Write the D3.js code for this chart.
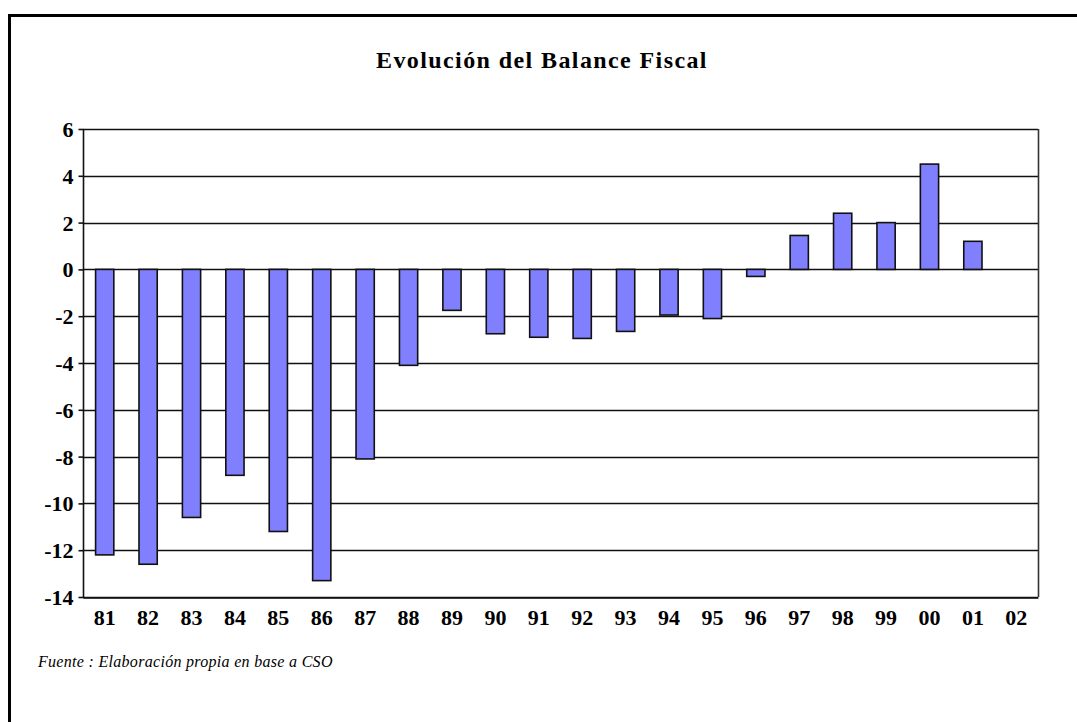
<!DOCTYPE html>
<html><head><meta charset="utf-8">
<script src="https://cdn.jsdelivr.net/npm/d3@7/dist/d3.min.js"></script>
<style>html,body{margin:0;padding:0;background:#fff;}svg{display:block;}</style>
</head><body>
<svg id="c" width="1077" height="722"></svg>
<script>
const title = "Evolución del Balance Fiscal";
const source = "Fuente : Elaboración propia en base a CSO";
const categories = ["81","82","83","84","85","86","87","88","89","90","91","92","93","94","95","96","97","98","99","00","01","02"];
const values = [-12.2,-12.6,-10.6,-8.8,-11.2,-13.3,-8.1,-4.1,-1.75,-2.75,-2.9,-2.95,-2.65,-1.95,-2.1,-0.3,1.45,2.4,2.0,4.5,1.2,null];
const yTicks = [6,4,2,0,-2,-4,-6,-8,-10,-12,-14];

const svg = d3.select("#c");
const L = 83, R = 1038, T = 129, B = 597;
const serif = "'Liberation Serif','DejaVu Serif',serif";

// outer frame (top and left visible)
svg.append("line").attr("x1",9.5).attr("x2",1077).attr("y1",15.5).attr("y2",15.5).attr("stroke","#000").attr("stroke-width",3);
svg.append("line").attr("x1",9.5).attr("x2",9.5).attr("y1",14).attr("y2",722).attr("stroke","#000").attr("stroke-width",3);

const x = d3.scaleBand().domain(categories).range([L,R]).paddingInner(0.58).paddingOuter(0.29);
const y = d3.scaleLinear().domain([-14,6]).range([B,T]);

// gridlines
svg.append("g").selectAll("line").data(yTicks).join("line")
  .attr("x1",L).attr("x2",R).attr("y1",d=>Math.round(y(d))+0.5).attr("y2",d=>Math.round(y(d))+0.5)
  .attr("stroke","#111").attr("stroke-width",1.6);

// right border
svg.append("line").attr("x1",R+0.5).attr("x2",R+0.5).attr("y1",T).attr("y2",B).attr("stroke","#333").attr("stroke-width",1.6);

// bars
svg.append("g").selectAll("rect").data(categories.map((c,i)=>({c,v:values[i]})).filter(d=>d.v!==null)).join("rect")
  .attr("x",d=>x(d.c)).attr("width",x.bandwidth())
  .attr("y",d=>y(Math.max(0,d.v))).attr("height",d=>Math.abs(y(d.v)-y(0)))
  .attr("fill","#8080ff").attr("stroke","#111").attr("stroke-width",1.6);

// y axis
const ya = d3.axisLeft(y).tickValues(yTicks).tickSize(5).tickPadding(5).tickFormat(d=>String(d));
const gy = svg.append("g").attr("transform",`translate(${L+0.5},0)`).call(ya);
gy.select(".domain").attr("stroke","#111").attr("stroke-width",1.6).attr("d",`M0,${T}V${B}`);
gy.selectAll(".tick line").attr("stroke","#111").attr("stroke-width",1.6);
gy.selectAll(".tick text").attr("font-family",serif)
  .attr("font-weight","bold").attr("font-size",22).attr("fill","#000").attr("dy","0.34em").attr("x",-10);

// x axis
const xa = d3.axisBottom(x).tickSize(0).tickPadding(12);
const gx = svg.append("g").attr("transform",`translate(0,${B+0.5})`).call(xa);
gx.select(".domain").attr("stroke","#111").attr("stroke-width",1.6);
gx.selectAll(".tick text").attr("font-family",serif)
  .attr("font-weight","bold").attr("font-size",22).attr("fill","#000");

// title
svg.append("text").attr("x",542).attr("y",68).attr("text-anchor","middle")
  .attr("font-family",serif).attr("font-weight","bold").attr("letter-spacing",1.4)
  .attr("font-size",24).text(title);

// source
svg.append("text").attr("x",38).attr("y",667)
  .attr("font-family",serif).attr("font-style","italic").attr("letter-spacing",0.3)
  .attr("font-size",16).text(source);
</script>
</body></html>
